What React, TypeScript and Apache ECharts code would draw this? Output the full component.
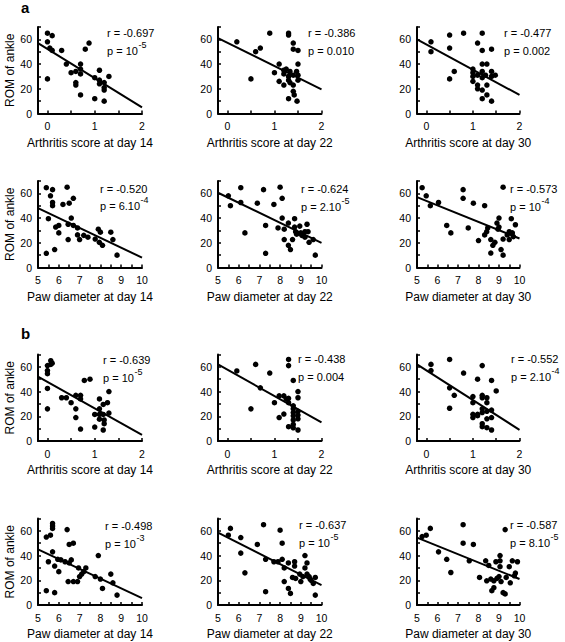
import { useEffect, useRef } from "react";
import * as echarts from "echarts";

const FONT = '"Liberation Sans", Arial, Helvetica, sans-serif';

// ---- axis ticks / labels ----
const arthritisTicks = [0, 0.5, 1, 1.5, 2];
const arthritisLabels = [0, 1, 2];
const pawTicks = [5, 5.5, 6, 6.5, 7, 7.5, 8, 8.5, 9, 9.5, 10];
const pawLabels = [5, 6, 7, 8, 9, 10];
const romLabels = [0, 20, 40, 60];

const xTitles = [
  "Arthritis score at day 14", "Arthritis score at day 22", "Arthritis score at day 30",
  "Paw diameter at day 14", "Paw diameter at day 22", "Paw diameter at day 30",
  "Arthritis score at day 14", "Arthritis score at day 22", "Arthritis score at day 30",
  "Paw diameter at day 14", "Paw diameter at day 22", "Paw diameter at day 30",
];
const yTitle = "ROM of ankle";

const rValues = ["-0.697", "-0.386", "-0.477", "-0.520", "-0.624", "-0.573", "-0.639", "-0.438", "-0.552", "-0.498", "-0.637", "-0.587"];
const pBases = ["10", "0.010", "0.002", "6.10", "2.10", "10", "10", "0.004", "2.10", "10", "10", "8.10"];
const pExps = ["-5", "", "", "-4", "-5", "-4", "-5", "", "-4", "-3", "-5", "-5"];

// ---- panel a data ----
const aArth14 = [[0,65],[0.1,63],[0,58],[0.05,53],[0.1,51],[0.3,51],[0,28],[0.88,57],[0.8,52],[0.4,40],[0.5,33],[0.6,34],[0.6,25],[0.6,23],[0.7,40],[0.7,36],[0.7,32],[0.7,15],[1.1,35],[1.0,29],[1.1,27],[1.1,24],[1.2,25],[1.2,21],[1.2,19],[1.3,30],[1.0,12],[1.2,10]];
const aArth22 = [[0.2,58],[0.5,28],[0.6,50],[0.7,53],[0.9,65],[1.3,65],[1.3,63.5],[1.4,57],[1.4,52],[1.5,51],[1.1,40],[1.0,33],[1.1,26],[1.2,35],[1.25,36],[1.2,32],[1.3,30],[1.33,34],[1.4,31],[1.47,34],[1.5,40],[1.5,31],[1.5,27],[1.2,23],[1.33,25],[1.4,23],[1.4,18],[1.42,15],[1.3,12],[1.48,10],[1.3,27]];
const aArth30 = [[0.1,58],[0.1,50],[0.5,63.5],[0.5,53],[0.8,65],[0.5,28],[0.6,34],[1.0,36],[1.0,33],[1.0,30],[1.0,26],[1.1,57],[1.2,65],[1.2,51],[1.4,52],[1.2,40],[1.3,40],[1.1,31],[1.2,34],[1.2,29],[1.27,31],[1.4,34],[1.4,30],[1.48,31],[1.1,23],[1.1,20],[1.2,19],[1.3,23],[1.3,15],[1.2,12],[1.4,10]];
const aPaw14 = [[5.4,64.6],[5.7,63],[5.6,58],[5.7,52.6],[5.7,50],[5.5,39.5],[5.4,11.5],[5.8,14.5],[5.85,32.7],[6.0,34],[6.0,28],[6.2,51],[6.4,65],[6.5,52],[6.7,56],[6.6,40],[6.45,35],[6.7,34],[6.9,32],[6.9,26.4],[7.0,22.6],[7.2,26],[7.4,24.5],[6.45,22.6],[7.75,23],[7.9,31],[8.0,28.6],[7.95,20.4],[8.1,18],[8.5,28.6],[8.6,22.6],[8.8,10]];
const aPaw22 = [[5.5,58],[5.6,50],[6.1,64.6],[6.1,52.6],[6.3,28],[6.9,52],[7.2,63],[7.3,34],[7.3,11.5],[7.7,51],[8.0,65],[8.1,56],[7.9,32],[8.1,40],[8.2,31],[8.2,22.6],[8.4,36],[8.4,18],[8.5,14.5],[8.6,22.6],[8.7,39.5],[8.7,32.7],[8.75,29],[8.8,27],[8.95,33.5],[9.0,28],[9.05,26],[9.2,29],[9.3,35],[9.2,24.5],[9.35,29],[9.4,20.4],[9.6,22.6],[9.7,10]];
const aPaw30 = [[5.25,64.6],[5.45,58],[5.65,50],[6.05,52.6],[6.45,34],[6.65,28],[7.25,63],[7.25,56],[7.5,32],[7.75,52],[8.0,21.8],[8.3,50],[8.3,26.4],[8.4,29],[8.45,32],[8.6,22.6],[8.6,11.7],[8.7,18],[8.8,20.4],[8.9,36],[8.95,31],[9.0,40],[9.0,32.7],[9.2,23],[9.1,14.5],[9.2,10],[9.2,65],[9.4,26.4],[9.5,29],[9.5,22.6],[9.6,39.5],[9.65,28],[9.7,25],[9.8,34.6]];

// ---- panel b data ----
const bArth14 = [[0.07,65],[0.1,63],[0,61],[0.07,62],[0,57],[0,54.5],[0,42.5],[0,26],[0.3,35],[0.4,35],[0.5,31],[0.6,37],[0.7,37],[0.7,34],[0.6,26],[0.6,19],[0.7,9.7],[0.78,49],[0.9,50],[1.1,34],[1.0,21.5],[1.0,11.3],[1.1,26],[1.1,21.5],[1.1,17.7],[1.18,21.5],[1.18,29.6],[1.27,31],[1.3,40],[1.3,22.6],[1.2,17],[1.2,14],[1.18,8.9]];
const bArth22 = [[0.2,56.7],[0.5,26],[0.6,62],[0.9,55],[0.7,43],[1.0,31],[1.1,36.5],[1.1,19],[1.2,36.5],[1.2,21.8],[1.3,66],[1.3,61],[1.25,34],[1.3,34.5],[1.3,31],[1.3,11.6],[1.4,49],[1.4,28.5],[1.4,26],[1.4,23],[1.4,20.4],[1.4,17],[1.4,13.4],[1.4,10.7],[1.5,40],[1.5,35],[1.5,24],[1.5,21],[1.5,18],[1.5,8.9]];
const bArth30 = [[0.1,62],[0.1,57],[0.5,66],[0.5,43],[0.6,37],[0.5,26.5],[0.8,55],[1.0,36],[1.0,31],[1.0,21.6],[1.0,19],[1.1,50],[1.1,21.6],[1.2,61],[1.2,37],[1.2,35],[1.3,35],[1.3,31],[1.2,26],[1.2,23],[1.3,24],[1.4,25],[1.4,49],[1.5,40.5],[1.2,14],[1.2,11.6],[1.3,10.8],[1.4,8.9],[1.3,18],[1.4,19],[1.1,20.5]];
const bPaw14 = [[5.4,55],[5.6,56.5],[5.7,66],[5.7,64],[5.7,62],[5.5,35],[5.4,11.6],[5.8,10],[5.7,43],[5.8,31.5],[5.95,37],[6.0,27],[6.1,36.5],[6.3,35],[6.4,61],[6.5,49],[6.7,50],[6.45,19],[6.6,36.5],[6.5,34],[6.7,19],[6.9,19],[6.95,30],[7.0,23],[7.1,25],[7.2,27],[7.3,30],[7.75,23],[7.9,40],[8.0,21],[8.1,13.4],[8.5,25],[8.6,18],[8.8,8]];
const bPaw22 = [[5.5,56.5],[5.6,62],[6.1,54.6],[6.1,42],[6.3,26],[6.9,49],[7.2,65],[7.3,37],[7.3,10.8],[7.7,35],[7.9,35],[8.0,60.5],[8.1,50],[8.1,37],[8.2,30],[8.2,19],[8.4,34],[8.4,13.4],[8.5,9.4],[8.6,22.3],[8.7,35],[8.7,31.5],[8.75,21.5],[8.95,25],[9.0,19],[9.1,23],[9.2,40],[9.2,30],[9.3,34],[9.3,25],[9.4,23],[9.45,21],[9.6,17.5],[9.7,22.3],[9.7,8],[9.5,20]];
const bPaw30 = [[5.25,55.4],[5.45,56.5],[5.65,62],[6.05,43],[6.45,37],[6.65,26.3],[7.25,65],[7.25,50],[7.55,35.8],[7.75,49],[8.05,22.3],[8.35,35.8],[8.4,19.6],[8.5,32],[8.6,21],[8.65,11.6],[8.75,14],[8.75,19.6],[8.85,35],[8.9,21.5],[9.0,23],[9.05,40],[9.05,35.8],[9.05,31],[9.1,19],[9.2,10],[9.3,9],[9.3,61],[9.35,22.3],[9.5,31],[9.55,18],[9.65,35.8],[9.75,23.6],[9.9,35],[9.8,25.8]];

// ---- regression line end points ----
const aFit = [
  [[-0.2, 57], [2, 5]], [[-0.2, 61], [2, 19.5]], [[-0.2, 60], [2, 15]],
  [[5, 48], [10, 8]], [[5, 60.5], [10, 20]], [[5, 57], [10, 23.5]],
];
const bFit = [
  [[-0.2, 52], [2, 5]], [[-0.2, 62], [2, 15]], [[-0.2, 62], [2, 9]],
  [[5, 45], [10, 5.5]], [[5, 58.5], [10, 16]], [[5, 54.5], [10, 21]],
];

const scatterSets = [aArth14, aArth22, aArth30, aPaw14, aPaw22, aPaw30, bArth14, bArth22, bArth30, bPaw14, bPaw22, bPaw30];
const fitSets = [...aFit, ...bFit];

// ---- layout ----
const colLeft = [38, 218, 417];
const colWidth = [104, 103.5, 102.5];
const rowTop = [27, 181, 354.5, 518.5];
const gridHeight = 86.5;
const rTextPos = [
  [107, 33], [308, 33], [504, 33],
  [100, 188.5], [301, 189], [510, 189],
  [103, 360], [298, 359], [511, 359],
  [105, 526], [299, 525], [510, 525],
];
const pGap = 17.5;
const supRaise = 6;

function measure(text: string, size: number): number {
  const ctx = document.createElement("canvas").getContext("2d");
  if (!ctx) return text.length * size * 0.55;
  ctx.font = `${size}px ${FONT}`;
  return ctx.measureText(text).width;
}

export default function App() {
  const ref = useRef<HTMLDivElement>(null);
  useEffect(() => {
    if (!ref.current) return;
    const chart = echarts.init(ref.current, undefined, { renderer: "svg" });
    const grids: any[] = [];
    const xAxes: any[] = [];
    const yAxes: any[] = [];
    const series: any[] = [];
    const graphics: any[] = [];

    for (let i = 0; i < 12; i++) {
      const row = Math.floor(i / 3);
      const col = i % 3;
      const isPaw = row % 2 === 1;
      grids.push({ left: colLeft[col], top: rowTop[row], width: colWidth[col], height: gridHeight });
      xAxes.push({
        type: "value",
        gridIndex: i,
        min: isPaw ? 5 : -0.2,
        max: isPaw ? 10 : 2,
        name: xTitles[i],
        nameLocation: "middle",
        nameGap: 23,
        nameTextStyle: { fontFamily: FONT, fontSize: 12, color: "#000" },
        axisLine: { onZero: false, lineStyle: { color: "#000", width: 2 } },
        axisTick: { inside: true, length: 3, customValues: isPaw ? pawTicks : arthritisTicks, lineStyle: { color: "#000", width: 1.5 } },
        axisLabel: { customValues: isPaw ? pawLabels : arthritisLabels, margin: 7, fontFamily: FONT, fontSize: 10.5, color: "#000" },
        splitLine: { show: false },
      });
      yAxes.push({
        type: "value",
        gridIndex: i,
        min: 0,
        max: 70,
        interval: 10,
        name: col === 0 ? yTitle : "",
        nameLocation: "middle",
        nameGap: 22,
        nameTextStyle: { fontFamily: FONT, fontSize: 12, color: "#000" },
        axisLine: { show: true, onZero: false, lineStyle: { color: "#000", width: 2 } },
        axisTick: { show: true, inside: true, length: 3, lineStyle: { color: "#000", width: 1.5 } },
        axisLabel: { customValues: romLabels, margin: 6, fontFamily: FONT, fontSize: 10.5, color: "#000" },
        splitLine: { show: false },
      });
      series.push({
        type: "scatter",
        xAxisIndex: i,
        yAxisIndex: i,
        data: scatterSets[i],
        symbolSize: 5.5,
        itemStyle: { color: "#000", opacity: 1 },
        z: 3,
      });
      series.push({
        type: "line",
        xAxisIndex: i,
        yAxisIndex: i,
        data: fitSets[i],
        symbol: "none",
        lineStyle: { color: "#000", width: 2 },
        z: 2,
      });
      const [rx, ry] = rTextPos[i];
      graphics.push({
        type: "text",
        x: rx,
        y: ry,
        style: { text: `r = ${rValues[i]}`, fontFamily: FONT, fontSize: 11, fill: "#000", align: "left", verticalAlign: "middle" },
      });
      const base = `p = ${pBases[i]}`;
      graphics.push({
        type: "text",
        x: rx,
        y: ry + pGap,
        style: { text: base, fontFamily: FONT, fontSize: 11, fill: "#000", align: "left", verticalAlign: "middle" },
      });
      if (pExps[i]) {
        graphics.push({
          type: "text",
          x: rx + measure(base, 11) + 0.5,
          y: ry + pGap - supRaise,
          style: { text: pExps[i], fontFamily: FONT, fontSize: 9, fill: "#000", align: "left", verticalAlign: "middle" },
        });
      }
    }

    graphics.push({ type: "text", x: 21, y: 7, style: { text: "a", fontFamily: FONT, fontSize: 15, fontWeight: "bold", fill: "#000", align: "left", verticalAlign: "middle" } });
    graphics.push({ type: "text", x: 21, y: 333, style: { text: "b", fontFamily: FONT, fontSize: 15, fontWeight: "bold", fill: "#000", align: "left", verticalAlign: "middle" } });

    chart.setOption({
      animation: false,
      backgroundColor: "#fff",
      textStyle: { fontFamily: FONT },
      grid: grids,
      xAxis: xAxes,
      yAxis: yAxes,
      series,
      graphic: graphics,
    });
    return () => chart.dispose();
  }, []);
  return <div ref={ref} style={{ position: "absolute", left: 0, top: 0, width: 565, height: 642 }} />;
}
